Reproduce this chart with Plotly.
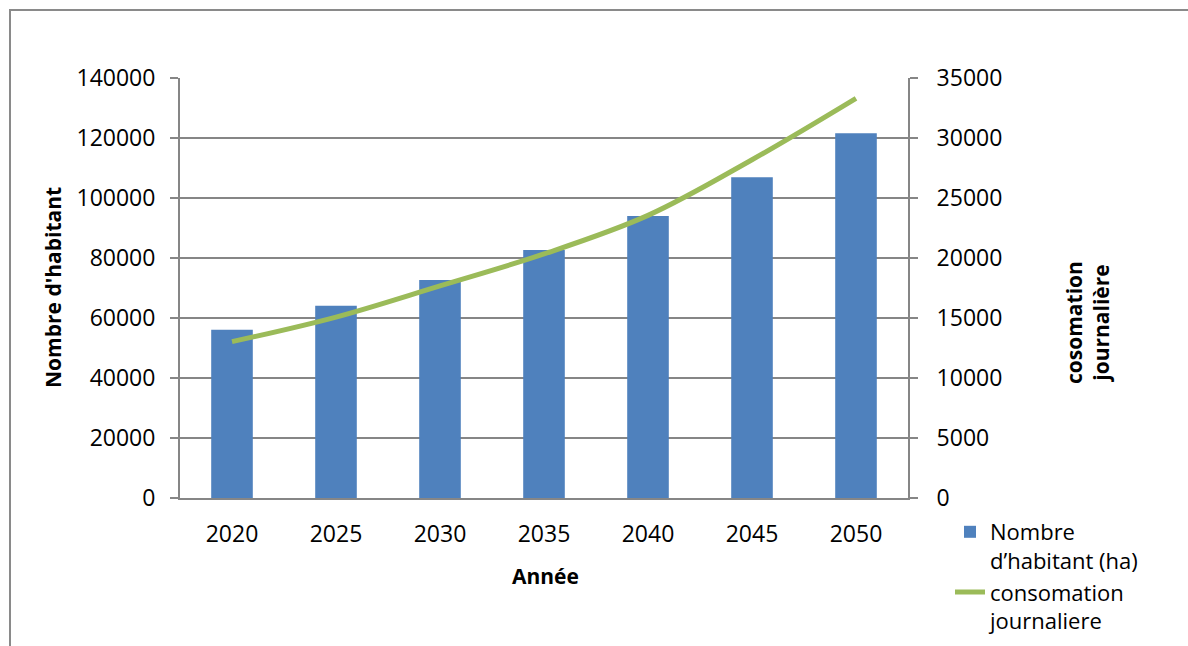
import plotly.graph_objects as go

years = ["2020", "2025", "2030", "2035", "2040", "2045", "2050"]
habitants = [56100, 64100, 72700, 82700, 94000, 106900, 121600]
consommation = [13030, 15080, 17680, 20340, 23550, 28190, 33310]
left_ticks = [0, 20000, 40000, 60000, 80000, 100000, 120000, 140000]
right_ticks = [0, 5000, 10000, 15000, 20000, 25000, 30000, 35000]

W, H = 1188, 646
L, R, T, B = 180, 908, 78, 498

def px(x):
    return (x - L) / (R - L)

def py(y):
    return (B - y) / (B - T)

grey = "#868686"
font = "Open Sans"
tfs = 23

fig = go.Figure()
fig.add_trace(go.Bar(
    x=years, y=habitants, name="Nombre<br>d\u2019habitant (ha)",
    marker=dict(color="#4F81BD", line=dict(width=0)), yaxis="y",
))
fig.add_trace(go.Scatter(
    x=years, y=consommation, name="consomation<br>journaliere",
    mode="lines", line=dict(color="#9BBB59", width=5, shape="spline"),
    yaxis="y2",
))

fig.update_layout(
    width=W, height=H,
    margin=dict(l=L, r=W - R, t=T, b=H - B, autoexpand=False),
    paper_bgcolor="white", plot_bgcolor="white",
    font=dict(family=font, size=tfs, color="black"),
    bargap=0.6,
    showlegend=True,
    legend=dict(x=px(950), y=py(511), xanchor="left", yanchor="top",
                font=dict(size=22), valign="top", tracegroupgap=2,
                itemwidth=30, bgcolor="rgba(0,0,0,0)"),
    xaxis=dict(showgrid=False, showline=True, linecolor=grey, linewidth=2,
               ticks="", tickfont=dict(size=tfs), ticklabelstandoff=14,
               automargin=False),
    yaxis=dict(range=[0, 140000], tickvals=left_ticks,
               ticktext=[str(v) for v in left_ticks],
               showgrid=True, gridcolor=grey, gridwidth=2,
               showline=True, linecolor=grey, linewidth=2,
               ticks="outside", ticklen=8, tickcolor=grey, tickwidth=2,
               zeroline=False, tickfont=dict(size=tfs), ticklabelstandoff=10,
               automargin=False),
    yaxis2=dict(range=[0, 35000], tickvals=right_ticks,
                ticktext=[str(v) for v in right_ticks],
                overlaying="y", side="right", showgrid=False,
                showline=True, linecolor=grey, linewidth=2,
                ticks="outside", ticklen=8, tickcolor=grey, tickwidth=2,
                zeroline=False, tickfont=dict(size=tfs), ticklabelstandoff=14,
                automargin=False),
    annotations=[
        dict(text="<b>Nombre d'habitant</b>", x=px(53), y=py(288),
             xref="paper", yref="paper", textangle=-90, showarrow=False,
             xanchor="center", yanchor="middle", font=dict(size=21)),
        dict(text="<b>cosomation<br>journalière</b>", x=px(1087), y=py(323),
             xref="paper", yref="paper", textangle=-90, showarrow=False,
             xanchor="center", yanchor="middle", font=dict(size=21)),
        dict(text="<b>Année</b>", x=px(545), y=py(576),
             xref="paper", yref="paper", showarrow=False,
             xanchor="center", yanchor="middle", font=dict(size=21)),
    ],
    shapes=[
        dict(type="rect", xref="paper", yref="paper",
             x0=px(10), x1=px(1300), y0=py(800), y1=py(10),
             line=dict(color="#8a8a8a", width=2), fillcolor="rgba(0,0,0,0)",
             layer="below"),
    ],
)

fig.write_html("out.html")
